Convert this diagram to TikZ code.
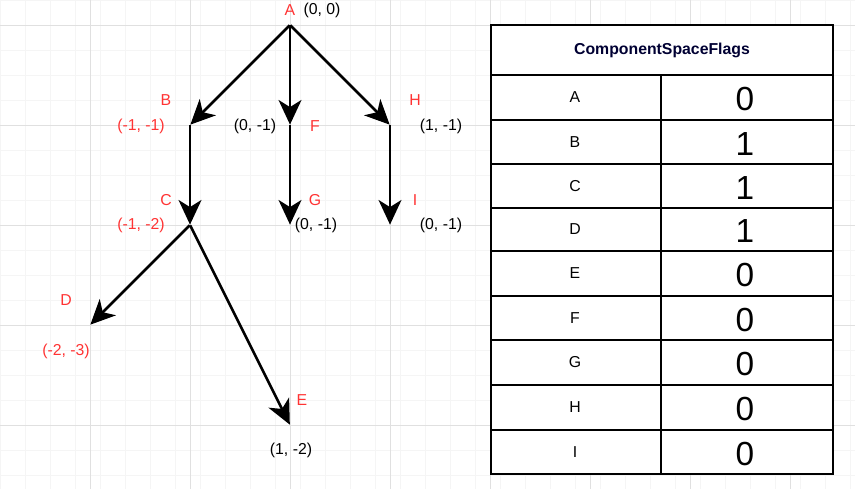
\documentclass[tikz,border=0pt]{standalone}
\usepackage{fontspec}
\setmainfont{Liberation Sans}
\usetikzlibrary{arrows.meta}
\definecolor{lblred}{HTML}{FF3333}
\definecolor{hdrblue}{HTML}{000033}
\tikzset{
	pt/.style={inner sep=0pt,minimum size=0pt},
	arc/.style={line width=1.5pt,-{Stealth[length=14pt,width=13pt,inset=4pt]}},
	vname/.style={text=lblred,font=\fontsize{9}{11}\selectfont},
	vcoord/.style={font=\fontsize{9}{11}\selectfont},
	cell/.style={font=\fontsize{9}{11}\selectfont},
	flag/.style={font=\fontsize{19}{22}\selectfont}
}
\begin{document}
\begin{tikzpicture}[x=0.02cm,y=-0.02cm]
	\useasboundingbox (0,0) rectangle (855,489);
	% grid
	\foreach \i in {0,25,...,850} \draw[black!4] (\i,0) -- (\i,489);
	\foreach \j in {0,25,...,475} \draw[black!4] (0,\j) -- (855,\j);
	\foreach \i in {-10,90,...,890} \draw[black!12] (\i,0) -- (\i,489);
	\foreach \j in {25,125,...,425} \draw[black!12] (0,\j) -- (855,\j);
	% tree
	\node[pt] (A) at (290,25) {};
	\node[pt] (B) at (190,125) {};
	\node[pt] (F) at (290,125) {};
	\node[pt] (H) at (390,125) {};
	\node[pt] (C) at (190,225) {};
	\node[pt] (G) at (290,225) {};
	\node[pt] (I) at (390,225) {};
	\node[pt] (D) at (90,325) {};
	\node[pt] (E) at (290,425) {};
	\draw[arc] (A) -- (B);
	\draw[arc] (A) -- (F);
	\draw[arc] (A) -- (H);
	\draw[arc] (B) -- (C);
	\draw[arc] (F) -- (G);
	\draw[arc] (H) -- (I);
	\draw[arc] (C) -- (D);
	\draw[arc] (C) -- (E);
	% labels
	\node[vname] (lA) at (290,10) {A};
	\node[vcoord] (cA) at (322,10) {(0,\ 0)};
	\node[vname] (lB) at (166,100) {B};
	\node[vname] (cB) at (141,126) {(-1,\ -1)};
	\node[vcoord] (cF) at (255,126) {(0,\ -1)};
	\node[vname] (lF) at (315,126) {F};
	\node[vname] (lH) at (415,100) {H};
	\node[vcoord] (cH) at (441,126) {(1,\ -1)};
	\node[vname] (lC) at (166,200) {C};
	\node[vname] (cC) at (141,225) {(-1,\ -2)};
	\node[vname] (lG) at (315,200) {G};
	\node[vcoord] (cG) at (316,225) {(0,\ -1)};
	\node[vname] (lI) at (415,200) {I};
	\node[vcoord] (cI) at (441,225) {(0,\ -1)};
	\node[vname] (lD) at (66,300) {D};
	\node[vname] (cD) at (66,351) {(-2,\ -3)};
	\node[vname] (lE) at (302,400) {E};
	\node[vcoord] (cE) at (291,450) {(1,\ -2)};
	% table
	\draw[fill=white,line width=1pt] (491,25) rectangle (833,474);
	\node[text=hdrblue,font=\bfseries\fontsize{9}{11}\selectfont] (hdr) at (662,50) {ComponentSpaceFlags};
	\draw[line width=1pt] (661,75) -- (661,474);
	\foreach \y/\l/\v [remember=\y as \yp (initially 75)] in
		{120/A/0,164/B/1,208/C/1,251/D/1,296/E/0,340/F/0,385/G/0,430/H/0,474/I/0} {
		\draw[line width=1pt] (491,\yp) -- (833,\yp);
		\node[cell] (r\l) at (575,{(\y+\yp)/2}) {\l};
		\node[flag] (v\l) at (745,{(\y+\yp)/2+2}) {\v};
	}
\end{tikzpicture}
\end{document}
